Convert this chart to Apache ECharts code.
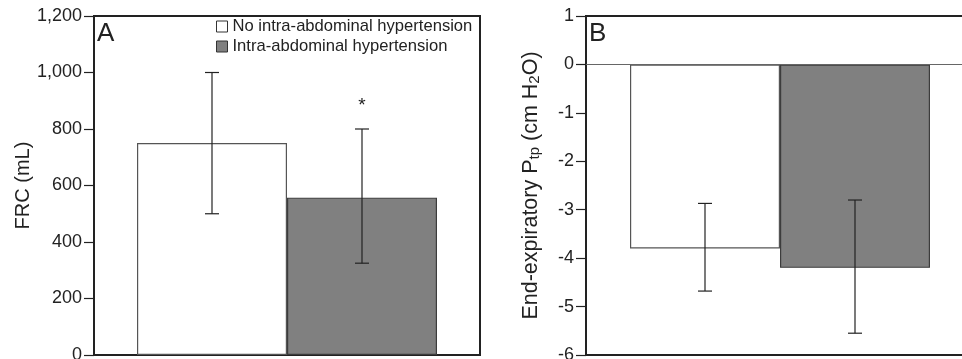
<!DOCTYPE html>
<html>
<head>
<meta charset="utf-8">
<script src="https://cdn.jsdelivr.net/npm/echarts@6/dist/echarts.min.js"></script>
<style>
html, body { margin: 0; padding: 0; background: #fff; }
#main { width: 962px; height: 359px; }
</style>
</head>
<body>
<div id="main"></div>
<script>
// groups (legend)
const groups = ['No intra-abdominal hypertension', 'Intra-abdominal hypertension']
const groupColors = ['#ffffff', '#808080']
const groupBorders = ['#555555', '#3c3c3c']

// panel A: FRC (mL), mean and error bar ends
const frcMean = [750, 557]
const frcLow = [500, 325]
const frcHigh = [1000, 800]
const frcSig = [null, 900] // asterisk above IAH

// panel B: end-expiratory Ptp (cm H2O)
const ptpMean = [-3.8, -4.2]
const ptpLow = [-4.68, -5.55]
const ptpHigh = [-2.87, -2.8]

const barWidth = 150
const font = 'Liberation Sans, Arial, sans-serif'
const ink = '#222'

function barSeries (values, gridIdx) {
  return values.map((v, i) => ({
    name: groups[i],
    type: 'bar',
    xAxisIndex: gridIdx,
    yAxisIndex: gridIdx,
    barWidth: barWidth,
    barGap: '0%',
    data: [v],
    itemStyle: { color: groupColors[i], borderColor: groupBorders[i], borderWidth: 1.2 }
  }))
}

function errorBars (low, high, gridIdx) {
  return {
    type: 'custom',
    xAxisIndex: gridIdx,
    yAxisIndex: gridIdx,
    z: 5,
    data: low.map((l, i) => [i, l, high[i]]),
    renderItem (params, api) {
      const shift = (api.value(0) === 0 ? -1 : 1) * barWidth / 2
      const top = api.coord([0, api.value(2)])
      const bot = api.coord([0, api.value(1)])
      const x = top[0] + shift
      const style = { stroke: ink, lineWidth: 1.2 }
      return {
        type: 'group',
        children: [
          { type: 'line', shape: { x1: x, y1: top[1], x2: x, y2: bot[1] }, style },
          { type: 'line', shape: { x1: x - 7, y1: top[1], x2: x + 7, y2: top[1] }, style },
          { type: 'line', shape: { x1: x - 7, y1: bot[1], x2: x + 7, y2: bot[1] }, style }
        ]
      }
    }
  }
}

function sigMarks (values, gridIdx) {
  return {
    type: 'custom',
    xAxisIndex: gridIdx,
    yAxisIndex: gridIdx,
    z: 6,
    data: values.map((v, i) => [i, v]).filter(d => d[1] != null),
    renderItem (params, api) {
      const shift = (api.value(0) === 0 ? -1 : 1) * barWidth / 2
      const p = api.coord([0, api.value(1)])
      return {
        type: 'text',
        style: { x: p[0] + shift, y: p[1] + 5, text: '*', fill: ink, font: '19px ' + font, align: 'center', verticalAlign: 'middle' }
      }
    }
  }
}

function yAxis (gridIdx, min, max, name, nameGap, fmt, rich) {
  return {
    gridIndex: gridIdx,
    type: 'value',
    min: min,
    max: max,
    interval: gridIdx === 0 ? 200 : 1,
    name: name,
    nameLocation: 'middle',
    nameGap: nameGap,
    nameTextStyle: { fontFamily: font, fontSize: 20, color: ink, rich: rich },
    axisLine: { show: true, lineStyle: { color: ink, width: 2 } },
    axisTick: { show: true, length: 10, lineStyle: { color: ink, width: 1.2 } },
    axisLabel: { fontFamily: font, fontSize: 18, color: ink, margin: 12, formatter: fmt },
    splitLine: { show: false }
  }
}

function xAxis (gridIdx) {
  return {
    gridIndex: gridIdx,
    type: 'category',
    data: [''],
    axisLine: { onZero: false, lineStyle: { color: ink, width: 2 } },
    axisTick: { show: false },
    axisLabel: { show: false }
  }
}

const chart = echarts.init(document.getElementById('main'))
const ptpSeries = barSeries(ptpMean, 1)
ptpSeries[0].markLine = {
  silent: true,
  symbol: 'none',
  label: { show: false },
  lineStyle: { color: '#666', width: 1, type: 'solid' },
  data: [{ yAxis: 0 }]
}

const option = {
  animation: false,
  backgroundColor: '#fff',
  textStyle: { fontFamily: font },
  grid: [
    { left: 94, width: 386, top: 16, bottom: 4, outerBoundsMode: 'none', show: true, borderColor: ink, borderWidth: 2 },
    { left: 586, width: 388, top: 16, bottom: 4, outerBoundsMode: 'none', show: true, borderColor: ink, borderWidth: 2 }
  ],
  legend: {
    orient: 'vertical',
    left: 216,
    top: 18,
    padding: 0,
    itemWidth: 11,
    itemHeight: 11,
    itemGap: 3,
    icon: 'rect',
    textStyle: { fontFamily: font, fontSize: 16.6, color: ink },
    data: groups.map((g, i) => ({
      name: g,
      itemStyle: { color: groupColors[i], borderColor: '#333', borderWidth: 1 }
    }))
  },
  graphic: [
    { type: 'text', left: 97, top: 21, style: { text: 'A', font: '26px ' + font, fill: ink } },
    { type: 'text', left: 589, top: 21, style: { text: 'B', font: '26px ' + font, fill: ink } }
  ],
  xAxis: [xAxis(0), xAxis(1)],
  yAxis: [
    yAxis(0, 0, 1200, 'FRC (mL)', 60, v => v.toLocaleString('en-US')),
    yAxis(1, -6, 1, '{n|End-expiratory P}{s|tp}{n| (cm H}{s|2}{n|O)}', 44, v => String(v), {
      n: { fontFamily: font, fontSize: 21.5, color: ink, lineHeight: 26, verticalAlign: 'bottom' },
      s: { fontFamily: font, fontSize: 15, color: ink, lineHeight: 15, verticalAlign: 'bottom' }
    })
  ],
  series: [
    ...barSeries(frcMean, 0),
    errorBars(frcLow, frcHigh, 0),
    sigMarks(frcSig, 0),
    ...ptpSeries,
    errorBars(ptpLow, ptpHigh, 1)
  ]
}
chart.setOption(option)
</script>
</body>
</html>
